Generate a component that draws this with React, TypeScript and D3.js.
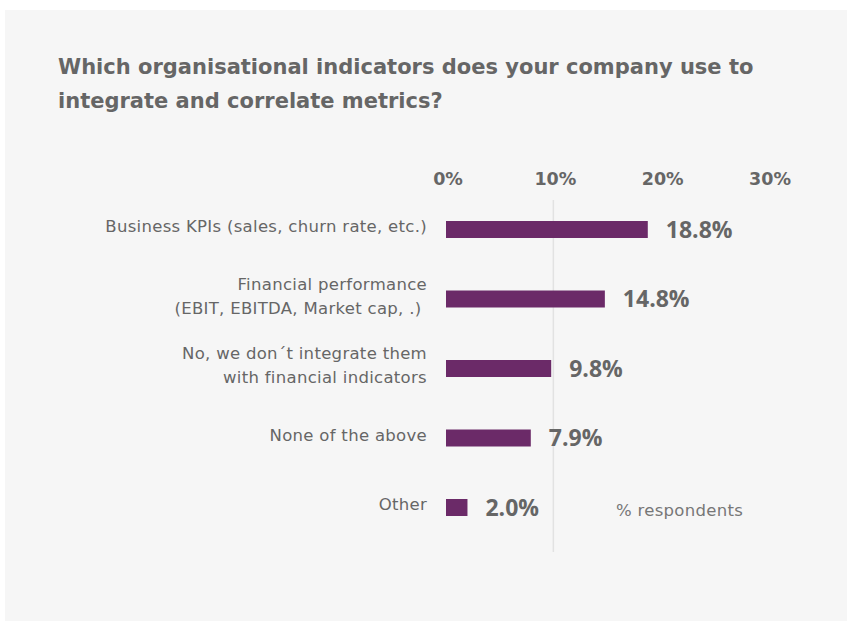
import React from "react";
import * as d3 from "d3";

const title = ["Which organisational indicators does your company use to", "integrate and correlate metrics?"];
const categories = [
  ["Business KPIs (sales, churn rate, etc.)"],
  ["Financial performance", "(EBIT, EBITDA, Market cap, .) "],
  ["No, we don\u00b4t integrate them", "with financial indicators"],
  ["None of the above"],
  ["Other"],
];
const values = [18.8, 14.8, 9.8, 7.9, 2.0];
const ticks = [0, 10, 20, 30];
const gridTicks = [10];
const unitNote = "% respondents";

const W = 847;
const H = 621;
const WIDE = "'DejaVu Sans', sans-serif";
const NARROW = "'Open Sans', 'DejaVu Sans', sans-serif";
const TEXT = "#666666";
const BAR = "#6b2a68";

export default function App() {
  const x = d3.scaleLinear().domain([0, 30]).range([446, 768]);
  const y = d3.scalePoint<number>().domain(d3.range(values.length)).range([229.5, 507.5]);
  const barH = 17;
  const lineH = 24;

  return (
    <svg width={W} height={H} style={{ position: "absolute", left: 0, top: 0 }}>
      <rect x={0} y={0} width={W} height={H} fill="#ffffff" />
      <rect x={5} y={10} width={W - 5} height={H - 10} fill="#f6f6f6" />
      {title.map((t, i) => (
        <text key={i} x={58} y={74 + i * 34} fontFamily={WIDE} fontSize={21} fontWeight={700} fill={TEXT}>
          {t}
        </text>
      ))}
      {gridTicks.map((t) => (
        <line key={t} x1={x(t)} x2={x(t)} y1={200} y2={552} stroke="#e2e2e2" strokeWidth={1.5} />
      ))}
      {ticks.map((t) => (
        <text key={t} x={x(t) + 2} y={185} fontFamily={WIDE} fontSize={17.5} fontWeight={700} fill={TEXT} textAnchor="middle">
          {d3.format(".0%")(t / 100)}
        </text>
      ))}
      {values.map((v, i) => {
        const cy = y(i)!;
        const lines = categories[i];
        const first = cy + 2.5 - ((lines.length - 1) * lineH) / 2;
        return (
          <g key={i}>
            <rect x={x(0)} y={cy - barH / 2} width={x(v) - x(0)} height={barH} fill={BAR} />
            <text x={x(v) + 18} y={cy + 8} fontFamily={NARROW} fontSize={23} fontWeight={700} fill={TEXT}>
              {d3.format(".1f")(v) + "%"}
            </text>
            {lines.map((l, j) => (
              <text
                key={j}
                x={427}
                y={first + j * lineH}
                fontFamily={WIDE}
                fontSize={16.5}
                letterSpacing={0.3}
                fill={TEXT}
                textAnchor="end"
                style={{ whiteSpace: "pre" }}
              >
                {l}
              </text>
            ))}
          </g>
        );
      })}
      <text x={616} y={516} fontFamily={WIDE} fontSize={16.5} letterSpacing={0.3} fill="#777777">
        {unitNote}
      </text>
    </svg>
  );
}
